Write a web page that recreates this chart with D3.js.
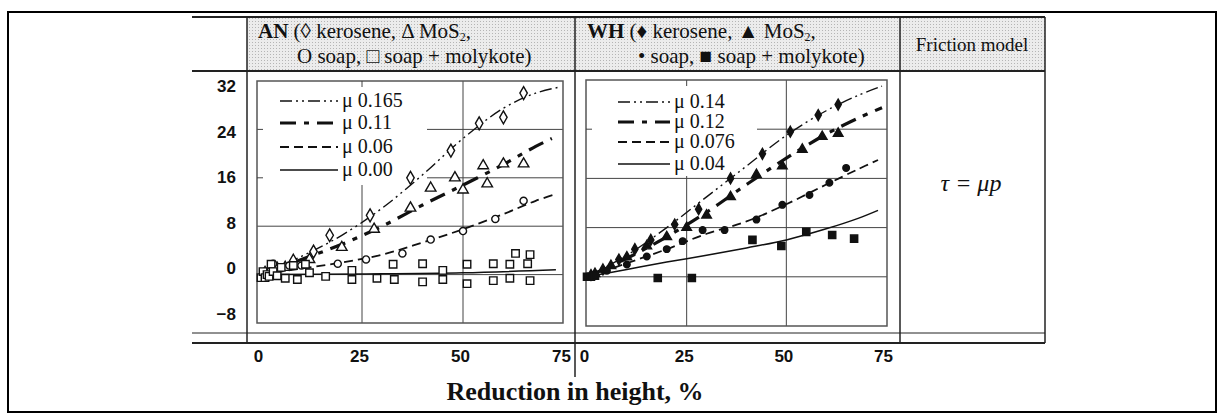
<!DOCTYPE html>
<html>
<head>
<meta charset="utf-8">
<script src="https://cdn.jsdelivr.net/npm/d3@7"></script>
<style>
  body { margin: 0; background: #fff; }
  svg { display: block; }
</style>
</head>
<body>
<svg id="chart"></svg>
<script>
const width = 1224, height = 420;

// axis ticks
const xTicks = [0, 25, 50, 75];
const yTicks = [-8, 0, 8, 16, 24, 32];
const gridY = [0, 8, 16, 24];
const gridX = [25, 50];

// AN panel: fitted friction curves (reduction %, value)
const anMu165 = [[0,0],[10,3],[20,6.5],[30,11],[40,16.5],[50,22.5],[60,27.5],[68,30],[74,31]];
const anMu11  = [[0,0],[10,2.5],[20,5],[30,8],[40,11.5],[50,14.8],[60,18.2],[68,21.2],[72,22.5]];
const anMu06  = [[0,0],[10,1],[20,2],[30,3.3],[40,5.3],[50,7.5],[60,10],[68,12.2],[73,13.3]];
const anMu00  = [[0,0],[25,0.1],[50,0.3],[73,0.8]];
// AN measured points
const anKerosene = [[1,0.3],[4,1],[8,2.3],[13,3.8],[17,6.5],[27,9.8],[37,16],[47,20.5],[54,25],[60,26],[65,30]];
const anMoS2 = [[2,0.3],[6,1.2],[12,2.5],[20,4.5],[28,7.5],[37,11],[42,14.3],[48,16],[50,14],[55,18],[56,15],[60,18.3],[65,18.3]];
const anSoap = [[1,0],[3,1.8],[7,1.5],[10,1.5],[19,1.8],[26,2.5],[35,3.5],[42,5.8],[50,7.2],[58,9.2],[65,12.2]];
const anMolykote = [[0,-0.5],[0.5,0.5],[1,-0.5],[1.5,0],[2,-0.3],[2.5,1.7],[3,0.5],[4,-0.2],[5,1.2],[6,-0.6],[8,1.5],[9,-0.8],
  [11,1.7],[12,0.3],[16,-0.3],[22.5,0.7],[22.5,-0.8],[28.7,-0.6],[33,-0.8],[32.7,1.7],[40,1.8],[40,-1.2],[45,0.7],[45,-0.8],
  [51,1.7],[51,-1.5],[57.5,1.8],[57.5,-1],[61.6,1.7],[61.6,-0.6],[63,3.5],[66.6,3.3],[66,1.8],[66.6,-1]];

// WH panel: fitted friction curves
const whMu14  = [[0,0],[10,3.5],[20,8],[30,13],[40,18],[50,23],[60,27],[68,29.5],[74,31]];
const whMu12  = [[0,0],[10,3],[20,6.5],[30,10.5],[40,15],[50,19.3],[60,23.2],[68,25.8],[74,27.5]];
const whMu076 = [[0,0],[10,2.2],[20,4.5],[30,7],[40,9],[50,11.8],[60,15],[68,17.5],[73,19]];
const whMu04  = [[0,0],[10,1.2],[20,2.4],[30,3.5],[40,4.7],[50,6],[60,7.8],[68,9.5],[73,10.8]];
// WH measured points
const whKerosene = [[1,0.3],[4,1.2],[8,2.8],[12,4.5],[16,6],[22,8.5],[28,11],[36,16],[44,20],[51,23.6],[58,26.3],[63,28]];
const whMoS2 = [[2,0.5],[6,1.8],[10,3.2],[15,5],[20,6.5],[25,8],[30,10],[36,13],[42.5,16.6],[49,18],[54,20.7],[59,22.8],[63,23.3]];
const whSoap = [[0,0],[2,0.2],[5,1],[10,2],[15,3.3],[20,4.5],[24,5.8],[29,7.6],[34.5,7.6],[42.5,9.3],[49,11.7],[55.8,13.3],[60.8,15.3],[65,17.7]];
const whMolykote = [[0,0],[1,0],[2,0.2],[17.75,-0.2],[26.3,-0.2],[41.5,6],[48.75,5],[55,7.3],[61.5,6.8],[67,6.2]];

// legend labels
const anLegend = ["\u03bc 0.165", "\u03bc 0.11", "\u03bc 0.06", "\u03bc 0.00"];
const whLegend = ["\u03bc 0.14", "\u03bc 0.12", "\u03bc 0.076", "\u03bc 0.04"];

// line styles shared by both panels (order = legend order)
const lineStyles = [
  {w: 1.4, dash: "12,4,2,4,2,4"},
  {w: 3.2, dash: "16,8,5,8"},
  {w: 1.8, dash: "9,5"},
  {w: 1.5, dash: null}
];

const svg = d3.select("#chart").attr("width", width).attr("height", height);
const serif = "'Liberation Serif', 'Times New Roman', 'DejaVu Serif', serif";
const narrow = "'Liberation Sans Narrow', 'Liberation Sans', Arial, sans-serif";

// stipple pattern for the header band
const defs = svg.append("defs");
const pat = defs.append("pattern").attr("id", "stip").attr("width", 3).attr("height", 3)
  .attr("patternUnits", "userSpaceOnUse");
pat.append("rect").attr("width", 3).attr("height", 3).attr("fill", "#ececec");
pat.append("rect").attr("width", 1).attr("height", 1).attr("fill", "#b5b5b5");

// outer frame
svg.append("rect").attr("x", 8).attr("y", 12).attr("width", 1208).attr("height", 400)
  .attr("fill", "none").attr("stroke", "#000").attr("stroke-width", 2);

// header cells
svg.append("rect").attr("x", 247).attr("y", 18).attr("width", 653).attr("height", 53).attr("fill", "url(#stip)");
svg.append("rect").attr("x", 900).attr("y", 18).attr("width", 145).attr("height", 53).attr("fill", "url(#stip)");

// table rules
const rule = (x1, y1, x2, y2, w) => svg.append("line")
  .attr("x1", x1).attr("y1", y1).attr("x2", x2).attr("y2", y2)
  .attr("stroke", "#222").attr("stroke-width", w || 1.2);
rule(192, 17, 1045, 17, 2.2);
rule(192, 71, 1045, 71, 1.8);
rule(192, 333, 1045, 333, 1);
rule(192, 343, 1045, 343, 1.8);
rule(247, 17, 247, 343, 1.5);
rule(575, 17, 575, 377, 1.5);
rule(900, 17, 900, 343, 1.5);
rule(1045, 17, 1045, 343, 1.5);

// header text
function header(x, y, parts) {
  const t = svg.append("text").attr("x", x).attr("y", y)
    .attr("font-family", serif).attr("font-size", 21).attr("fill", "#111");
  parts.forEach(p => {
    const s = t.append("tspan").text(p.t);
    if (p.b) s.attr("font-weight", "bold");
    if (p.sub) s.attr("font-size", 12).attr("dy", 3);
    if (p.up) s.attr("dy", -3);
  });
}
header(258, 38, [{t: "AN", b: true}, {t: " (\u25ca kerosene, \u0394 MoS"}, {t: "2", sub: true}, {t: ",", up: true}]);
header(297, 63, [{t: "O soap, \u25a1 soap + molykote)"}]);
header(587, 38, [{t: "WH", b: true}, {t: " (\u2666 kerosene, \u25b2 MoS"}, {t: "2", sub: true}, {t: ",", up: true}]);
header(638, 63, [{t: "\u2022 soap, \u25a0 soap + molykote)"}]);
svg.append("text").attr("x", 972).attr("y", 51).attr("text-anchor", "middle")
  .attr("font-family", serif).attr("font-size", 19).attr("fill", "#111").text("Friction model");
svg.append("text").attr("x", 971).attr("y", 191).attr("text-anchor", "middle")
  .attr("font-family", serif).attr("font-style", "italic").attr("font-size", 24).attr("fill", "#111")
  .text("\u03c4 = \u03bcp");

// y tick labels (the printed labels sit on their own scale in the scan)
const yLabel = d3.scaleLinear().domain([-8, 32]).range([314, 86]);
const yAxis = svg.append("g").attr("transform", "translate(236,0)")
  .call(d3.axisLeft(yLabel).tickValues(yTicks).tickSize(0).tickPadding(0));
yAxis.select(".domain").remove();
yAxis.selectAll("text").attr("font-family", narrow).attr("font-weight", "bold")
  .attr("font-size", 17).attr("fill", "#111");

// panels
const panels = [
  {xr: [261, 564], yr: [323, 81], box: [257, 81, 563, 323], legBg: [427, 185], legX: [280, 338], legY: [101, 123, 147, 170],
   curves: [anMu165, anMu11, anMu06, anMu00], labels: anLegend, filled: false,
   points: [anKerosene, anMoS2, anSoap, anMolykote]},
  {xr: [587, 886], yr: [326, 80], box: [586, 80, 887, 326], legBg: [757, 176], legX: [618, 670], legY: [102, 122, 142, 164],
   curves: [whMu14, whMu12, whMu076, whMu04], labels: whLegend, filled: true,
   points: [whKerosene, whMoS2, whSoap, whMolykote]}
];
const symbolTypes = [d3.symbolDiamond, d3.symbolTriangle, d3.symbolCircle, d3.symbolSquare];
const symbolSizes = [[48, 48, 40, 56], [34, 40, 34, 52]];

panels.forEach((p, pi) => {
  const x = d3.scaleLinear().domain([0, 75]).range(p.xr);
  const y = d3.scaleLinear().domain([-8, 32]).range(p.yr);
  const g = svg.append("g");

  // grid
  g.selectAll(".gy").data(gridY).join("line")
    .attr("x1", p.box[0]).attr("x2", p.box[2]).attr("y1", d => y(d)).attr("y2", d => y(d))
    .attr("stroke", "#444").attr("stroke-width", 1);
  g.selectAll(".gx").data(gridX).join("line")
    .attr("x1", d => x(d)).attr("x2", d => x(d)).attr("y1", p.box[1]).attr("y2", p.box[3])
    .attr("stroke", "#444").attr("stroke-width", 1);

  // legend background hides part of the grid
  g.append("rect").attr("x", p.box[0] + 1).attr("y", p.box[1] + 1)
    .attr("width", p.legBg[0] - p.box[0] - 1).attr("height", p.legBg[1] - p.box[1] - 1).attr("fill", "#fff");
  // short ticks left over at the edges
  g.append("line").attr("x1", x(25)).attr("x2", x(25)).attr("y1", p.box[1]).attr("y2", p.box[1] + 6)
    .attr("stroke", "#444");
  g.selectAll(".ty").data([16, 24].filter(v => y(v) < p.legBg[1])).join("line")
    .attr("x1", p.box[0]).attr("x2", p.box[0] + 6).attr("y1", d => y(d)).attr("y2", d => y(d))
    .attr("stroke", "#444");

  g.append("rect").attr("x", p.box[0]).attr("y", p.box[1])
    .attr("width", p.box[2] - p.box[0]).attr("height", p.box[3] - p.box[1])
    .attr("fill", "none").attr("stroke", "#555").attr("stroke-width", 1.5);

  // curves
  const line = d3.line().x(d => x(d[0])).y(d => y(d[1])).curve(d3.curveCatmullRom);
  p.curves.forEach((c, i) => {
    g.append("path").attr("d", line(c)).attr("fill", "none").attr("stroke", "#111")
      .attr("stroke-width", lineStyles[i].w).attr("stroke-dasharray", lineStyles[i].dash);
  });

  // points
  p.points.forEach((pts, i) => {
    const sym = d3.symbol().type(symbolTypes[i]).size(symbolSizes[pi][i]);
    g.selectAll(null).data(pts).join("path")
      .attr("transform", d => `translate(${x(d[0])},${y(d[1])})`)
      .attr("d", sym())
      .attr("fill", p.filled ? "#111" : "#fff")
      .attr("stroke", "#111").attr("stroke-width", 1.4);
  });

  // legend
  p.labels.forEach((lab, i) => {
    g.append("line").attr("x1", p.legX[0]).attr("x2", p.legX[1])
      .attr("y1", p.legY[i]).attr("y2", p.legY[i]).attr("stroke", "#111")
      .attr("stroke-width", lineStyles[i].w).attr("stroke-dasharray", lineStyles[i].dash);
    g.append("text").attr("x", p.legX[1] + 4).attr("y", p.legY[i] + 6)
      .attr("font-family", serif).attr("font-size", 20).attr("fill", "#111").text(lab);
  });

  // x tick labels
  const xa = svg.append("g").attr("transform", "translate(-3,350)")
    .call(d3.axisBottom(x).tickValues(xTicks).tickSize(0).tickPadding(0));
  xa.select(".domain").remove();
  xa.selectAll("text").attr("font-family", narrow).attr("font-weight", "bold")
    .attr("font-size", 17).attr("fill", "#111");
});

svg.append("text").attr("x", 575).attr("y", 400).attr("text-anchor", "middle")
  .attr("font-family", serif).attr("font-weight", "bold").attr("font-size", 26).attr("fill", "#111")
  .text("Reduction in height, %");
</script>
</body>
</html>
